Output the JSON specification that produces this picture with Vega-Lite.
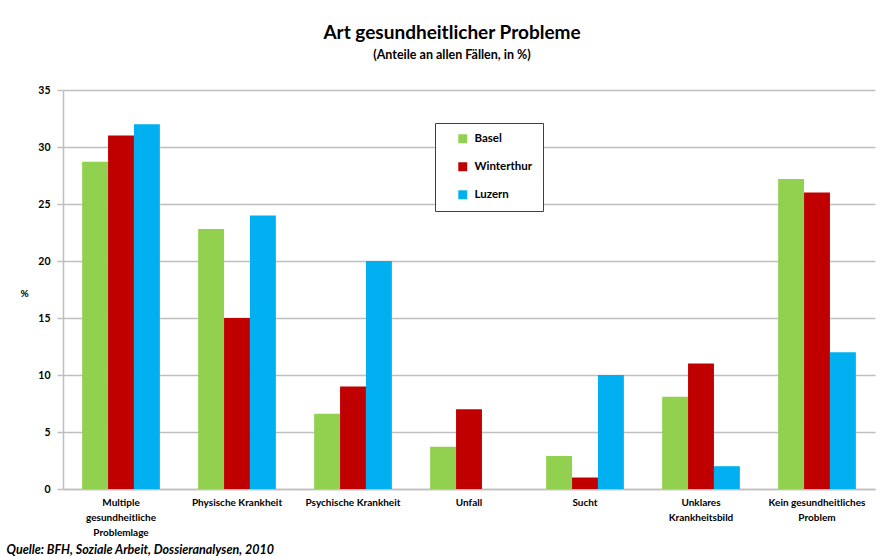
{
  "$schema": "https://vega.github.io/schema/vega-lite/v6.json",
  "autosize": "none",
  "width": 812,
  "height": 399,
  "padding": {"left": 63, "top": 90, "right": 6, "bottom": 67},
  "background": "white",
  "title": {
    "text": "Art gesundheitlicher Probleme",
    "subtitle": "(Anteile an allen Fällen, in %)",
    "anchor": "middle",
    "dx": -17,
    "offset": 24,
    "font": "Lato",
    "fontSize": 19,
    "fontWeight": "bold",
    "color": "black",
    "subtitleFont": "Lato",
    "subtitleFontSize": 12.5,
    "subtitleFontWeight": "bold",
    "subtitleColor": "black",
    "subtitlePadding": 6
  },
  "data": {
    "values": [
      {"kategorie": "Multiple gesundheitliche Problemlage", "ort": "Basel", "wert": 28.7},
      {"kategorie": "Multiple gesundheitliche Problemlage", "ort": "Winterthur", "wert": 31},
      {"kategorie": "Multiple gesundheitliche Problemlage", "ort": "Luzern", "wert": 32},
      {"kategorie": "Physische Krankheit", "ort": "Basel", "wert": 22.8},
      {"kategorie": "Physische Krankheit", "ort": "Winterthur", "wert": 15},
      {"kategorie": "Physische Krankheit", "ort": "Luzern", "wert": 24},
      {"kategorie": "Psychische Krankheit", "ort": "Basel", "wert": 6.6},
      {"kategorie": "Psychische Krankheit", "ort": "Winterthur", "wert": 9},
      {"kategorie": "Psychische Krankheit", "ort": "Luzern", "wert": 20},
      {"kategorie": "Unfall", "ort": "Basel", "wert": 3.7},
      {"kategorie": "Unfall", "ort": "Winterthur", "wert": 7},
      {"kategorie": "Unfall", "ort": "Luzern", "wert": 0},
      {"kategorie": "Sucht", "ort": "Basel", "wert": 2.9},
      {"kategorie": "Sucht", "ort": "Winterthur", "wert": 1},
      {"kategorie": "Sucht", "ort": "Luzern", "wert": 10},
      {"kategorie": "Unklares Krankheitsbild", "ort": "Basel", "wert": 8.1},
      {"kategorie": "Unklares Krankheitsbild", "ort": "Winterthur", "wert": 11},
      {"kategorie": "Unklares Krankheitsbild", "ort": "Luzern", "wert": 2},
      {"kategorie": "Kein gesundheitliches Problem", "ort": "Basel", "wert": 27.2},
      {"kategorie": "Kein gesundheitliches Problem", "ort": "Winterthur", "wert": 26},
      {"kategorie": "Kein gesundheitliches Problem", "ort": "Luzern", "wert": 12}
    ]
  },
  "mark": {"type": "bar"},
  "encoding": {
    "x": {
      "field": "kategorie",
      "type": "nominal",
      "sort": null,
      "scale": {"paddingInner": 0.33, "paddingOuter": 0.165},
      "axis": {
        "title": "Quelle: BFH, Soziale Arbeit,  Dossieranalysen, 2010",
        "titleFont": "Lato",
        "titleFontSize": 12.5,
        "titleFontStyle": "italic",
        "titleFontWeight": "bold",
        "titleColor": "black",
        "titleAnchor": "start",
        "titleAlign": "left",
        "titleBaseline": "middle",
        "titleX": -57,
        "titleY": 60,
        "labelExpr": "datum.value == 'Multiple gesundheitliche Problemlage' ? ['Multiple', 'gesundheitliche', 'Problemlage'] : datum.value == 'Unklares Krankheitsbild' ? ['Unklares', 'Krankheitsbild'] : datum.value == 'Kein gesundheitliches Problem' ? ['Kein gesundheitliches', 'Problem'] : datum.value",
        "labelAngle": 0,
        "labelFont": "Lato",
        "labelFontSize": 10,
        "labelFontWeight": "bold",
        "labelColor": "black",
        "labelPadding": 8,
        "labelLineHeight": 15,
        "ticks": false,
        "domainColor": "#BFBFBF",
        "domainWidth": 1.5
      }
    },
    "xOffset": {"field": "ort", "sort": ["Basel", "Winterthur", "Luzern"]},
    "y": {
      "field": "wert",
      "type": "quantitative",
      "scale": {"domain": [0, 35], "nice": false},
      "axis": {
        "values": [0, 5, 10, 15, 20, 25, 30, 35],
        "title": "%",
        "titleAngle": 0,
        "titleX": -39,
        "titleY": 203,
        "titleAlign": "center",
        "titleBaseline": "middle",
        "titleFont": "Lato",
        "titleFontSize": 10,
        "titleFontWeight": "bold",
        "titleColor": "black",
        "labelFont": "Lato",
        "labelFontSize": 10.5,
        "labelFontWeight": "bold",
        "labelColor": "black",
        "labelPadding": 7,
        "tickSize": 6,
        "tickColor": "#BFBFBF",
        "tickWidth": 1.5,
        "domainColor": "#BFBFBF",
        "domainWidth": 1.5,
        "grid": true,
        "gridColor": "#BFBFBF",
        "gridWidth": 1.5
      }
    },
    "color": {
      "field": "ort",
      "type": "nominal",
      "sort": ["Basel", "Winterthur", "Luzern"],
      "scale": {"domain": ["Basel", "Winterthur", "Luzern"], "range": ["#92D050", "#C00000", "#00B0F0"]},
      "legend": {
        "title": null,
        "orient": "none",
        "legendX": 372,
        "legendY": 33,
        "symbolType": "square",
        "symbolSize": 80,
        "symbolStrokeWidth": 0,
        "symbolOffset": 12,
        "labelOffset": 6,
        "labelFont": "Lato",
        "labelFontSize": 11.5,
        "labelFontWeight": "bold",
        "labelColor": "black",
        "rowPadding": 15,
        "padding": 10,
        "strokeColor": "#404040",
        "fillColor": "white",
        "offset": 0
      }
    }
  },
  "config": {
    "view": {"stroke": null}
  }
}
